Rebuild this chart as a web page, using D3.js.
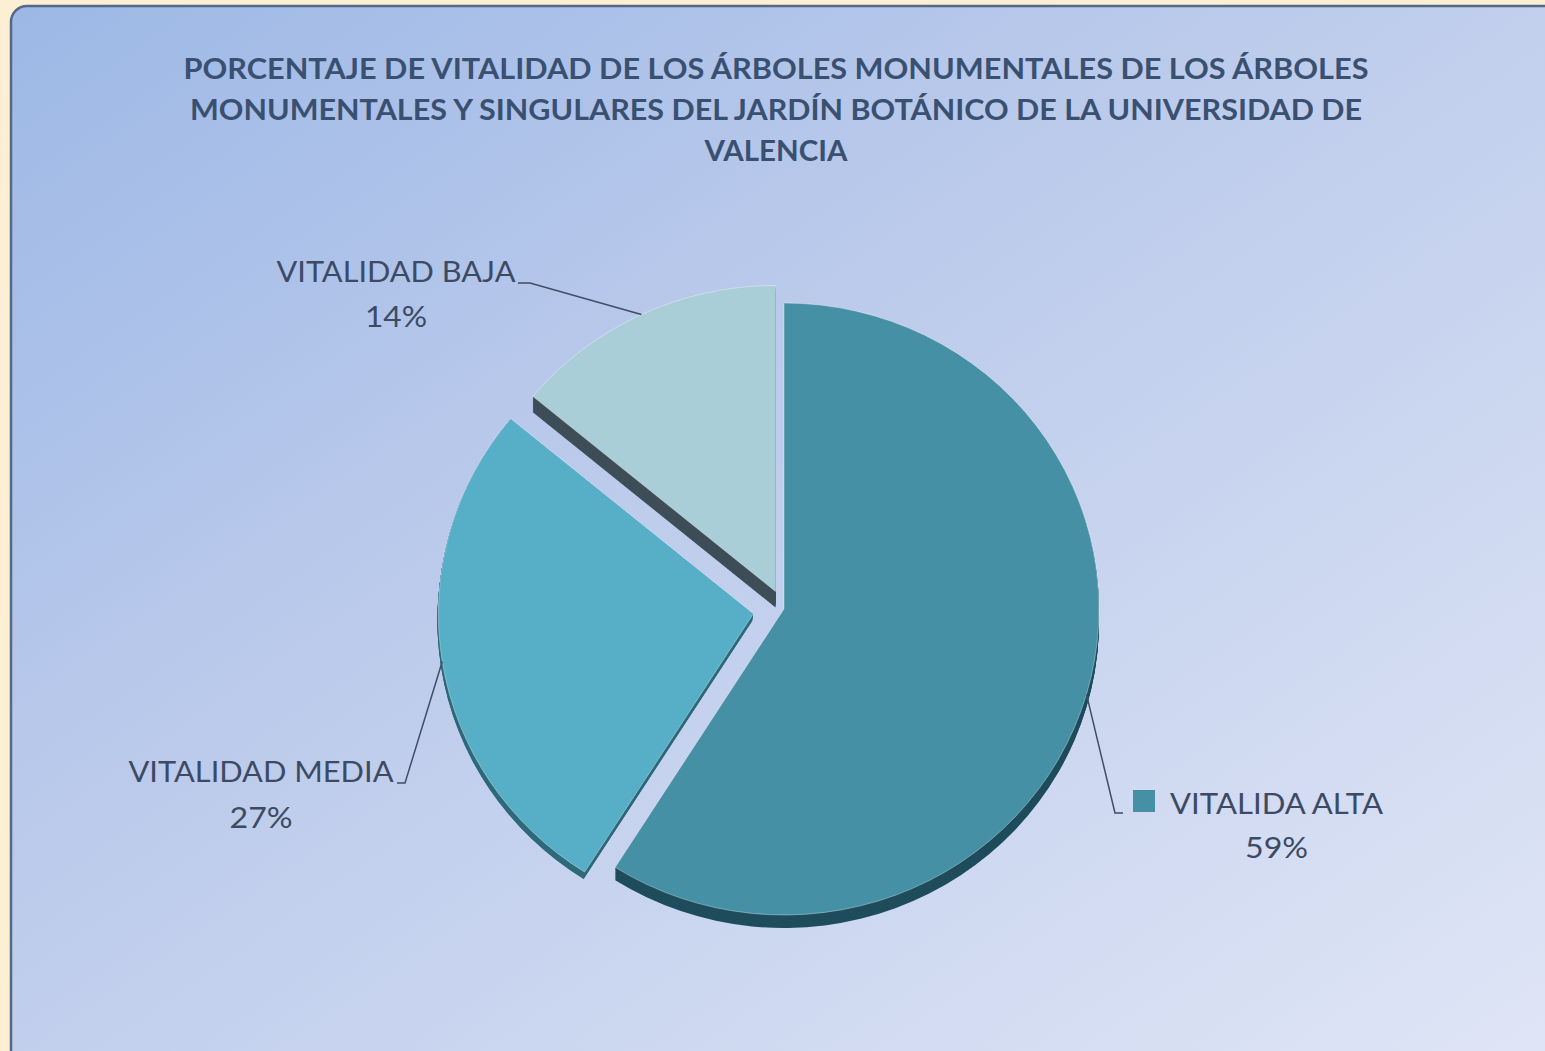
<!DOCTYPE html>
<html>
<head>
<meta charset="utf-8">
<script src="https://cdn.jsdelivr.net/npm/d3@7"></script>
<style>
  html, body { margin: 0; padding: 0; background: #FCEFD4; }
  svg { display: block; }
</style>
</head>
<body>
<svg id="chart" width="1545" height="1051"></svg>
<script>
// ---- data ----
const categories = ["VITALIDA ALTA", "VITALIDAD MEDIA", "VITALIDAD BAJA"];
const values = [59, 27, 14];
const percentLabels = ["59%", "27%", "14%"];
const titleLines = [
  "PORCENTAJE DE VITALIDAD DE LOS ÁRBOLES MONUMENTALES DE LOS ÁRBOLES",
  "MONUMENTALES Y SINGULARES DEL JARDÍN BOTÁNICO DE LA UNIVERSIDAD DE",
  "VALENCIA"
];

// ---- style / layout ----
const W = 1545, H = 1051;
const topColors = ["#4590A5", "#57AFC7", "#A9CED8"];
const sideColors = ["#1F4D5C", "#2F6B7B", "#3F4E58"];
const explode = [0, 31, 20];
const sideShift = [[0, 13], [-1, 7], [0, 16]];
const cx = 784, cy = 609, rx = 315, ry = 306;
const k = ry / rx;
const textColor = "#3C4A63";

const svg = d3.select("#chart");
const defs = svg.append("defs");
const grad = defs.append("linearGradient").attr("id", "bg")
  .attr("x1", "0").attr("y1", "0").attr("x2", "1").attr("y2", "1");
grad.append("stop").attr("offset", "0%").attr("stop-color", "#9DB8E6");
grad.append("stop").attr("offset", "45%").attr("stop-color", "#BFCDEC");
grad.append("stop").attr("offset", "100%").attr("stop-color", "#E0E6F6");

// panel
svg.append("rect").attr("x", 11).attr("y", 6).attr("width", 1560).attr("height", 1080)
  .attr("rx", 16).attr("fill", "url(#bg)")
  .attr("stroke", "#526A86").attr("stroke-width", 2.5);

// title
const title = svg.append("g");
const titleWidths = [1185, 1172, 143];
const titleBase = [79, 120, 161];
titleLines.forEach((t, i) => {
  title.append("text")
    .attr("x", 776).attr("y", titleBase[i])
    .attr("text-anchor", "middle")
    .attr("font-family", "Lato, 'Open Sans', sans-serif")
    .attr("font-weight", "bold").attr("font-size", 29)
    .attr("fill", "#3A5070")
    .attr("textLength", titleWidths[i]).attr("lengthAdjust", "spacingAndGlyphs")
    .text(t);
});

// pie
const pie = d3.pie().sort(null).startAngle(0).endAngle(2 * Math.PI);
const arcs = pie(values);
const arc = d3.arc().innerRadius(0).outerRadius(rx);

const offsets = arcs.map((a, i) => {
  const m = (a.startAngle + a.endAngle) / 2;
  return [explode[i] * Math.sin(m), -explode[i] * Math.cos(m) * k];
});

const pieG = svg.append("g");
// sides (extrusion)
arcs.forEach((a, i) => {
  const [dx, dy] = sideShift[i];
  const steps = 16;
  for (let s = steps; s >= 1; s--) {
    const f = s / steps;
    pieG.append("path")
      .attr("d", arc(a))
      .attr("transform", `translate(${cx + offsets[i][0] + dx * f},${cy + offsets[i][1] + dy * f}) scale(1,${k})`)
      .attr("fill", sideColors[i]);
  }
});
// tops
arcs.forEach((a, i) => {
  pieG.append("path")
    .attr("d", arc(a))
    .attr("transform", `translate(${cx + offsets[i][0]},${cy + offsets[i][1]}) scale(1,${k})`)
    .attr("fill", topColors[i])
    .attr("stroke", "rgba(255,255,255,0.35)")
    .attr("stroke-width", 1)
    .attr("vector-effect", "non-scaling-stroke");
});

// labels + leader lines
const labelLayout = [
  { x: 1276.5, y1: 814, y2: 858, w1: 213, w2: 63, elbow: [[1115, 813], [1123, 813]], legend: true },
  { x: 261, y1: 782, y2: 828, w1: 265, w2: 63, elbow: [[405, 783], [397, 783]] },
  { x: 396, y1: 282, y2: 327, w1: 239, w2: 62, elbow: [[530, 283], [518, 283]] }
];
const labG = svg.append("g");
arcs.forEach((a, i) => {
  const m = (a.startAngle + a.endAngle) / 2;
  const ax = cx + offsets[i][0] + rx * Math.sin(m);
  const ay = cy + offsets[i][1] - ry * Math.cos(m);
  const L = labelLayout[i];
  labG.append("path")
    .attr("d", d3.line()([[ax, ay], ...L.elbow]))
    .attr("fill", "none").attr("stroke", "#3F4E66").attr("stroke-width", 1.5);
  labG.append("text")
    .attr("x", L.x).attr("y", L.y1).attr("text-anchor", "middle")
    .attr("font-family", "Lato, 'Open Sans', sans-serif").attr("font-size", 28)
    .attr("fill", textColor)
    .attr("textLength", L.w1).attr("lengthAdjust", "spacingAndGlyphs")
    .text(categories[i]);
  labG.append("text")
    .attr("x", L.x).attr("y", L.y2).attr("text-anchor", "middle")
    .attr("font-family", "Lato, 'Open Sans', sans-serif").attr("font-size", 28)
    .attr("fill", textColor)
    .attr("textLength", L.w2).attr("lengthAdjust", "spacingAndGlyphs")
    .text(percentLabels[i]);
  if (L.legend) {
    labG.append("rect")
      .attr("x", L.x - L.w1 / 2 - 37).attr("y", L.y1 - 24)
      .attr("width", 22).attr("height", 22)
      .attr("fill", topColors[i]);
  }
});
</script>
</body>
</html>
